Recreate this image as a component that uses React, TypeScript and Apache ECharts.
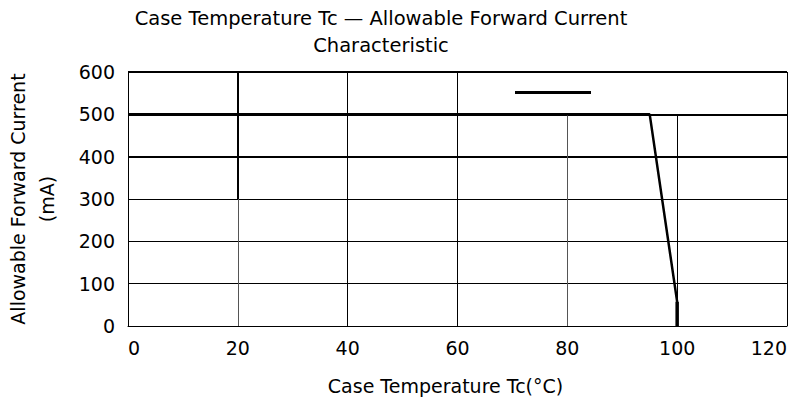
import React, { useEffect, useRef } from "react";
import * as echarts from "echarts";

// Derating curve: case temperature (°C) vs allowable forward current (mA)
const curveTemp = [0, 95, 100];
const curveCurrent = [500, 500, 57];
const cutoffTemp = [100, 100];
const cutoffCurrent = [57, 0];

const xTicks = [0, 20, 40, 60, 80, 100, 120];
const yTicks = [0, 100, 200, 300, 400, 500, 600];

// grid lines drawn as segments (some stop at 500, some are heavier)
const thinHLines = [100, 200, 300];
const thickHLines = [400, 500, 600];
const vGridX = [20, 40, 60, 80, 100, 120];
const vGridTop = [600, 600, 600, 500, 500, 600];
const vGridColor = ["#555", "#000", "#000", "#555", "#000", "#000"];
const thickVSegX = 20;
const thickVSeg = [300, 600];

const FONT = "DejaVu Sans";

export default function App() {
  const ref = useRef<HTMLDivElement>(null);
  useEffect(() => {
    if (!ref.current) return;
    const chart = echarts.init(ref.current, undefined, { renderer: "svg" });
    const xMin = xTicks[0];
    const xMax = xTicks[xTicks.length - 1];
    const markData: any[] = [];
    thinHLines.forEach((y) =>
      markData.push([
        { coord: [xMin, y], lineStyle: { color: "#000", width: 1, type: "solid" } },
        { coord: [xMax, y] },
      ])
    );
    thickHLines.forEach((y) =>
      markData.push([
        { coord: [xMin, y], lineStyle: { color: "#000", width: 2, type: "solid" } },
        { coord: [xMax, y] },
      ])
    );
    vGridX.forEach((x, i) =>
      markData.push([
        { coord: [x, 0], lineStyle: { color: vGridColor[i], width: 1, type: "solid" } },
        { coord: [x, vGridTop[i]] },
      ])
    );
    markData.push([
      { coord: [thickVSegX, thickVSeg[0]], lineStyle: { color: "#000", width: 2, type: "solid" } },
      { coord: [thickVSegX, thickVSeg[1]] },
    ]);

    chart.setOption({
      animation: false,
      backgroundColor: "#fff",
      title: {
        text: "Case Temperature Tc \u2014 Allowable Forward Current\nCharacteristic",
        left: 376,
        top: 0,
        textAlign: "center",
        textStyle: {
          fontFamily: FONT,
          fontSize: 19.5,
          fontWeight: "normal",
          color: "#000",
          lineHeight: 27,
        },
      },
      legend: {
        left: 510,
        top: 86,
        icon: "rect",
        itemWidth: 76,
        itemHeight: 3,
        formatter: () => "",
        data: ["Tc"],
        textStyle: { fontSize: 1 },
      },
      grid: {
        left: 128,
        right: 15,
        top: 72,
        bottom: 81,
        containLabel: false,
        outerBoundsMode: "none",
      },
      xAxis: {
        type: "value",
        min: xMin,
        max: xMax,
        interval: 20,
        name: "Case Temperature Tc(\u00b0C)",
        nameLocation: "middle",
        nameGap: 50,
        nameTextStyle: {
          fontFamily: FONT,
          fontSize: 19,
          color: "#000",
          lineHeight: 20,
          padding: [0, 24, 0, 0],
        },
        axisLine: { show: true, lineStyle: { color: "#000", width: 1 } },
        axisTick: { show: false },
        splitLine: { show: false },
        axisLabel: {
          fontFamily: FONT,
          fontSize: 19,
          color: "#000",
          margin: 12,
          alignMinLabel: "left",
          alignMaxLabel: "right",
        },
      },
      yAxis: {
        type: "value",
        min: yTicks[0],
        max: yTicks[yTicks.length - 1],
        interval: 100,
        name: "Allowable Forward Current\n(mA)",
        nameLocation: "middle",
        nameRotate: 90,
        nameGap: 67,
        nameTextStyle: {
          fontFamily: FONT,
          fontSize: 19,
          color: "#000",
          lineHeight: 29,
        },
        axisLine: { show: true, lineStyle: { color: "#000", width: 1 } },
        axisTick: { show: false },
        splitLine: { show: false },
        axisLabel: { fontFamily: FONT, fontSize: 19, color: "#000", margin: 13 },
      },
      series: [
        {
          type: "line",
          name: "grid",
          data: [],
          silent: true,
          markLine: {
            silent: true,
            symbol: ["none", "none"],
            label: { show: false },
            emphasis: { disabled: true },
            data: markData,
          },
        },
        {
          type: "line",
          name: "Tc",
          color: "#000",
          data: curveTemp.map((t, i) => [t, curveCurrent[i]]),
          showSymbol: false,
          symbol: "none",
          lineStyle: { color: "#000", width: 2.5 },
          z: 5,
        },
        {
          type: "line",
          name: "cutoff",
          color: "#000",
          data: cutoffTemp.map((t, i) => [t, cutoffCurrent[i]]),
          showSymbol: false,
          symbol: "none",
          lineStyle: { color: "#000", width: 3.5 },
          z: 5,
        },
      ],
    });
    return () => chart.dispose();
  }, []);
  return <div ref={ref} style={{ width: 802, height: 407, margin: -8 }} />;
}
